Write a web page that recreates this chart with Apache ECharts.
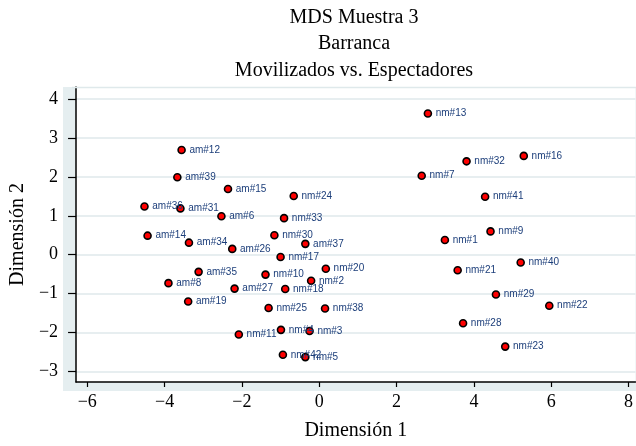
<!DOCTYPE html>
<html><head><meta charset="utf-8">
<script src="https://cdn.jsdelivr.net/npm/echarts@6/dist/echarts.min.js"></script>
<style>html,body{margin:0;padding:0;background:#fff}#c{width:636px;height:446px}</style>
</head><body><div id="c"></div>
<script>
const titleLines = ['MDS Muestra 3', 'Barranca', 'Movilizados vs. Espectadores'];
const xTitle = 'Dimensión 1';
const yTitle = 'Dimensión 2';
const labels = ['am#12','am#39','am#15','am#36','am#31','am#6','am#14','am#34','am#26','am#35','am#8','am#27','am#19','nm#11',
  'nm#13','nm#7','nm#24','nm#33','nm#30','am#37','nm#17','nm#20','nm#10','nm#2','nm#18','nm#25','nm#38','nm#4','nm#3','nm#42','nm#5',
  'nm#32','nm#16','nm#41','nm#9','nm#1','nm#40','nm#21','nm#29','nm#22','nm#28','nm#23'];
const dim1 = [-3.56,-3.67,-2.36,-4.52,-3.59,-2.53,-4.44,-3.37,-2.25,-3.12,-3.90,-2.19,-3.39,-2.08,
  2.81,2.65,-0.66,-0.91,-1.16,-0.36,-1.00,0.17,-1.39,-0.21,-0.88,-1.31,0.15,-0.99,-0.25,-0.94,-0.36,
  3.81,5.29,4.29,4.43,3.25,5.21,3.58,4.57,5.95,3.72,4.81];
const dim2 = [2.69,1.99,1.69,1.24,1.19,0.99,0.49,0.31,0.15,-0.44,-0.73,-0.87,-1.20,-2.05,
  3.63,2.03,1.51,0.94,0.50,0.28,-0.06,-0.36,-0.51,-0.67,-0.88,-1.37,-1.38,-1.93,-1.96,-2.57,-2.63,
  2.40,2.54,1.49,0.60,0.38,-0.20,-0.40,-1.02,-1.31,-1.76,-2.36];
const xTicks = [-6,-4,-2,0,2,4,6,8];
const yTicks = [-3,-2,-1,0,1,2,3,4];

const fmt = v => (v < 0 ? '\u2212' + Math.abs(v) : String(v));
const serif = '"Liberation Serif", "Times New Roman", serif';
const gridColor = '#dfe9eb';

const chart = echarts.init(document.getElementById('c'), null, {renderer: 'canvas'});
chart.setOption({
  animation: false,
  backgroundColor: '#ffffff',
  graphic: [
    {type: 'rect', z: -10, shape: {x: 63, y: 87, width: 573, height: 304}, style: {fill: '#e5eef0'}},
    {type: 'line', z: 5, shape: {x1: 72, y1: 87.5, x2: 636, y2: 87.5}, style: {stroke: gridColor, lineWidth: 1.5}},
    {type: 'text', x: 354, y: 4, style: {text: titleLines.join('\n'), align: 'center', verticalAlign: 'top',
      font: '20px ' + serif, lineHeight: 26.5, fill: '#000'}}
  ],
  grid: {left: 72, right: 0, top: 87, bottom: 63, show: true, backgroundColor: '#ffffff', borderWidth: 0},
  xAxis: {
    type: 'value', min: -6.29, max: 8.18,
    name: xTitle, nameLocation: 'middle', nameGap: 39,
    nameTextStyle: {fontFamily: serif, fontSize: 20, color: '#000'},
    axisLine: {show: true, onZero: false, lineStyle: {color: '#000', width: 1.5}},
    axisTick: {show: true, customValues: xTicks, length: 5, lineStyle: {color: '#000', width: 1.2}},
    axisLabel: {customValues: xTicks, formatter: fmt, fontFamily: serif, fontSize: 18, color: '#000', margin: 11},
    splitLine: {show: false}
  },
  yAxis: {
    type: 'value', min: -3.27, max: 4.31,
    name: yTitle, nameLocation: 'middle', nameGap: 45, nameRotate: 90,
    nameTextStyle: {fontFamily: serif, fontSize: 20, color: '#000'},
    axisLine: {show: true, onZero: false, lineStyle: {color: '#000', width: 1.5}},
    axisTick: {show: true, customValues: yTicks, length: 8, lineStyle: {color: '#000', width: 1.2}},
    axisLabel: {customValues: yTicks, formatter: fmt, fontFamily: serif, fontSize: 18, color: '#000', margin: 18},
    splitLine: {show: true, lineStyle: {color: gridColor, width: 1.5}}
  },
  series: [{
    type: 'scatter',
    data: labels.map((l, i) => ({name: l, value: [dim1[i], dim2[i]]})),
    symbol: 'circle', symbolSize: 7,
    itemStyle: {color: '#ff0000', borderColor: '#000', borderWidth: 1.6, opacity: 1},
    label: {show: true, position: 'right', distance: 3.5, formatter: p => p.name,
      fontFamily: '"Liberation Sans", Arial, sans-serif', fontSize: 10, color: '#1c3e7a'},
    labelLayout: {hideOverlap: false},
    emphasis: {disabled: true}
  }]
});
</script></body></html>
